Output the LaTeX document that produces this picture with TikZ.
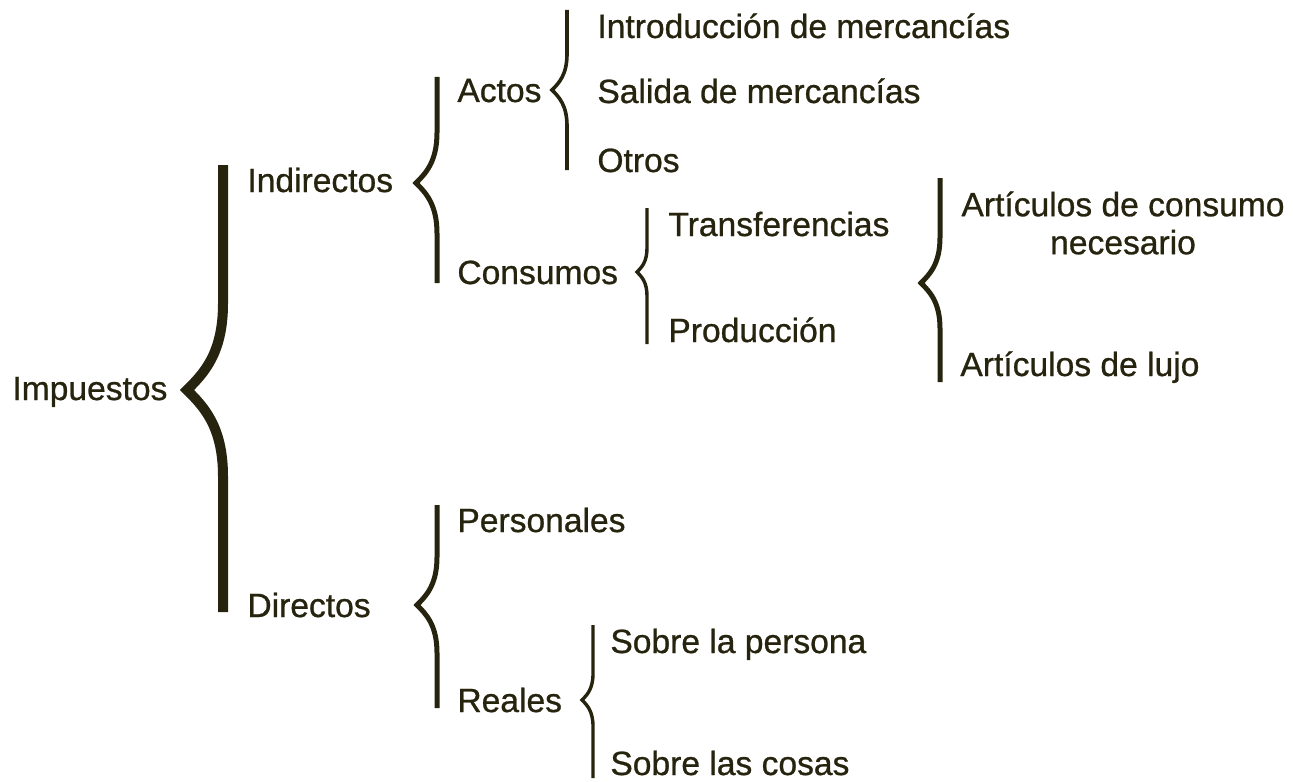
\documentclass[tikz,border=0pt]{standalone}
\usepackage{fontspec}
\setmainfont{Liberation Sans}[BoldFont=Liberation Sans, BoldFeatures={FakeBold=0.8}]
\definecolor{tinta}{RGB}{38,36,14}

% llave: [options]{tip x}{line x}{top}{tip y}{bottom}
\newcommand{\llave}[6][]{%
  \draw[#1] (#3,#4) -- (#3,{#5-2.4*(#3-#2)})
    .. controls (#3,{#5-1.0*(#3-#2)}) and ({#2+0.45*(#3-#2)},{#5-0.45*(#3-#2)}) .. (#2,#5)
    .. controls ({#2+0.45*(#3-#2)},{#5+0.45*(#3-#2)}) and (#3,{#5+1.0*(#3-#2)}) .. (#3,{#5+2.4*(#3-#2)})
    -- (#3,#6);}

\begin{document}
\begin{tikzpicture}[x=0.5pt, y=-0.5pt, draw=tinta, every node/.style={anchor=base west,inner sep=0,text=tinta,font=\fontsize{16.8}{19}\selectfont\bfseries}]

	\useasboundingbox (0,0) rectangle (1293,781);

	\node (imp) at (12,400) {Impuestos};
	\node (ind) at (247,192) {Indirectos};
	\node (dir) at (247,617) {Directos};

	\node (act) at (457,102) {Actos};
	\node (intro) at (597,38) {Introducción de mercancías};
	\node (sal) at (597,103) {Salida de mercancías};
	\node (otr) at (597,172) {Otros};

	\node (con) at (457,284) {Consumos};
	\node (tra) at (668,236) {Transferencias};
	\node (pro) at (668,342) {Producción};
	\node (nec) at (1123,223) [anchor=center, align=center] {Artículos de consumo\\necesario};
	\node (lujo) at (960,376) {Artículos de lujo};

	\node (per) at (457,532) {Personales};
	\node (rea) at (457,712) {Reales};
	\node (sper) at (610,653) {Sobre la persona};
	\node (scos) at (610,775) {Sobre las cosas};

	\llave[line width=5pt]{187}{223}{165}{390}{612}
	\llave[line width=2.5pt]{416}{437}{77}{183}{283}
	\llave[line width=1.8pt]{552}{567}{10}{90}{170}
	\llave[line width=1.7pt]{637}{647}{208}{272}{344}
	\llave[line width=2.5pt]{921}{940}{178}{283}{382}
	\llave[line width=2.5pt]{417}{437}{505}{605}{708}
	\llave[line width=1.7pt]{582}{593}{625}{700}{778}

\end{tikzpicture}
\end{document}
